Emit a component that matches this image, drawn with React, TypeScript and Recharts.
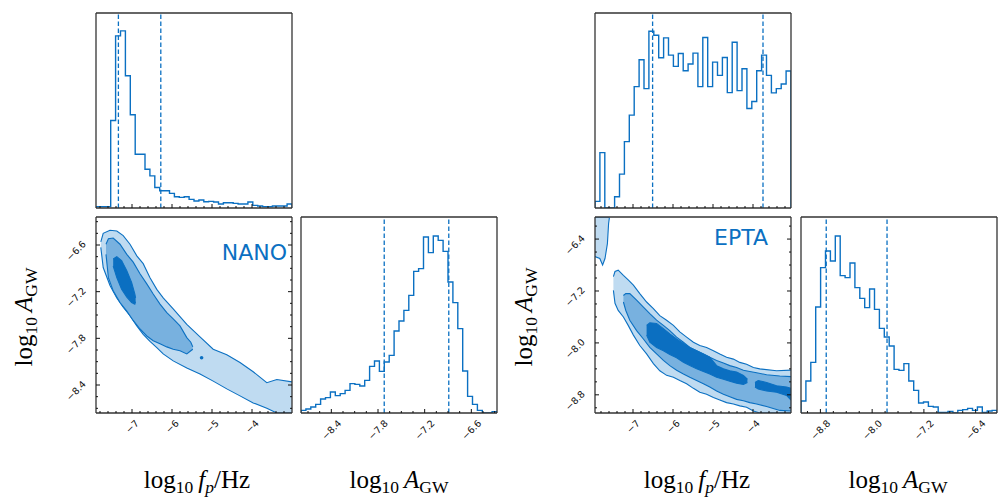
import React from 'react';
import { ComposedChart, Line, Area, Scatter, XAxis, YAxis, ReferenceLine } from 'recharts';

const BLUE = '#0b70c2';
const C1 = '#bfdbf1';
const C2 = '#78b1df';
const C3 = '#0b6fc1';
const FRAME = '#333333';
const TICK = '#111111';

// ---------- axis ranges & ticks ----------
const NANO_FP_RANGE = [-7.9, -3.0];
const NANO_A_RANGE_HIST = [-8.79, -6.27];
const NANO_A_RANGE_2D = [-8.76, -6.24];
const EPTA_FP_RANGE = [-7.95, -3.05];
const EPTA_A_RANGE_HIST = [-9.1, -6.07];
const EPTA_A_RANGE_2D = [-9.08, -6.06];

const FP_MAJOR = [-7, -6, -5, -4];
const FP_MINOR = [-7.8, -7.6, -7.4, -7.2, -6.8, -6.6, -6.4, -6.2, -5.8, -5.6, -5.4, -5.2, -4.8, -4.6, -4.4, -4.2, -3.8, -3.6, -3.4, -3.2];
const NANO_A_MAJOR = [-8.4, -7.8, -7.2, -6.6];
const NANO_A_MINOR = [-8.7, -8.55, -8.25, -8.1, -7.95, -7.65, -7.5, -7.35, -7.05, -6.9, -6.75, -6.45, -6.3];
const EPTA_A_MAJOR = [-8.8, -8.0, -7.2, -6.4];
const EPTA_A_MINOR = [-9.0, -8.6, -8.4, -8.2, -7.8, -7.6, -7.4, -7.0, -6.8, -6.6, -6.2];

// ---------- histograms (40 bins each) ----------
const NANO_FP_COUNTS = [4, 4, 4, 264, 519, 534, 399, 281, 162, 162, 117, 97, 62, 52, 52, 44, 34, 32, 34, 26, 21, 24, 19, 20, 18, 12, 16, 16, 14, 12, 12, 18, 8, 6, 4, 4, 6, 6, 6, 12];
const NANO_A_COUNTS = [8, 12, 18, 26, 42, 46, 63, 52, 58, 68, 88, 86, 81, 98, 140, 156, 125, 153, 173, 246, 276, 308, 353, 425, 433, 528, 481, 531, 518, 485, 393, 331, 253, 126, 50, 26, 8, 0, 0, 4];
const EPTA_FP_COUNTS = [20, 167, 0, 0, 34, 102, 200, 280, 366, 447, 360, 533, 521, 453, 513, 461, 427, 466, 414, 434, 467, 366, 514, 366, 440, 400, 454, 348, 500, 354, 420, 300, 321, 414, 461, 400, 347, 360, 374, 413];
const EPTA_A_COUNTS = [36, 96, 152, 318, 436, 486, 456, 531, 412, 406, 450, 376, 344, 316, 372, 311, 254, 228, 201, 131, 128, 148, 96, 68, 30, 33, 20, 18, 2, 2, 5, 0, 8, 10, 14, 8, 18, 2, 6, 8];
const HIST_TOP = 588;

const NANO_FP_QUANT = [-7.34, -6.28];
const NANO_A_QUANT = [-7.72, -6.89];
const EPTA_FP_QUANT = [-6.51, -3.75];
const EPTA_A_QUANT = [-8.71, -7.77];

// ---------- 2D contours: [x, lower, upper] ----------
const NANO_L1 = [
  [-7.78, -6.63, -6.56], [-7.72, -6.89, -6.45], [-7.55, -7.12, -6.41], [-7.38, -7.28, -6.42],
  [-7.22, -7.40, -6.48], [-7.05, -7.51, -6.59], [-6.88, -7.64, -6.74], [-6.72, -7.75, -6.84],
  [-6.55, -7.84, -7.02], [-6.38, -7.92, -7.17], [-6.22, -8.00, -7.28], [-5.97, -8.09, -7.42],
  [-5.63, -8.18, -7.62], [-5.30, -8.26, -7.78], [-4.97, -8.35, -7.94], [-4.63, -8.45, -8.01],
  [-4.30, -8.54, -8.11], [-3.97, -8.63, -8.23], [-3.63, -8.70, -8.37], [-3.38, -8.76, -8.33],
  [-3.0, -8.76, -8.36],
];
const NANO_L2 = [
  [-7.65, -6.72, -6.59], [-7.59, -7.02, -6.52], [-7.47, -7.19, -6.51], [-7.30, -7.34, -6.59],
  [-7.13, -7.45, -6.72], [-6.97, -7.57, -6.82], [-6.80, -7.68, -6.97], [-6.63, -7.77, -7.10],
  [-6.47, -7.83, -7.23], [-6.30, -7.87, -7.36], [-6.13, -7.91, -7.47], [-5.97, -7.94, -7.55],
  [-5.80, -7.96, -7.64], [-5.63, -8.00, -7.79], [-5.53, -7.96, -7.85], [-5.48, -7.94, -7.91],
];
const NANO_L3 = [
  [-7.47, -6.87, -6.78], [-7.38, -7.02, -6.75], [-7.26, -7.17, -6.80], [-7.13, -7.27, -6.93],
  [-7.01, -7.34, -7.08], [-6.93, -7.36, -7.23], [-6.91, -7.33, -7.28],
];
const NANO_ISLAND = [{ x: -5.26, y: -8.05 }];

const EPTA_L1_BLOB = [
  [-7.95, -6.67, -6.06], [-7.83, -6.70, -6.06], [-7.76, -6.80, -6.06], [-7.70, -6.70, -6.06],
  [-7.64, -6.47, -6.06], [-7.61, -6.16, -6.06], [-7.59, -6.07, -6.06],
];
const EPTA_L1 = [
  [-7.49, -7.19, -6.98], [-7.45, -7.39, -6.90], [-7.37, -7.50, -6.88], [-7.24, -7.60, -6.96],
  [-7.12, -7.73, -7.03], [-6.99, -7.88, -7.11], [-6.83, -8.04, -7.24], [-6.66, -8.17, -7.37],
  [-6.49, -8.32, -7.47], [-6.33, -8.43, -7.58], [-6.16, -8.50, -7.65], [-5.99, -8.53, -7.73],
  [-5.83, -8.58, -7.83], [-5.66, -8.63, -7.91], [-5.49, -8.70, -7.99], [-5.33, -8.76, -8.04],
  [-5.16, -8.79, -8.07], [-4.99, -8.84, -8.12], [-4.83, -8.88, -8.17], [-4.66, -8.92, -8.22],
  [-4.49, -8.94, -8.25], [-4.33, -8.97, -8.30], [-4.16, -8.99, -8.33], [-3.99, -9.05, -8.38],
  [-3.83, -9.08, -8.40], [-3.41, -9.08, -8.43], [-3.05, -9.08, -8.42],
];
const EPTA_L2 = [
  [-7.24, -7.37, -7.27], [-7.18, -7.50, -7.24], [-7.08, -7.65, -7.24], [-6.91, -7.81, -7.34],
  [-6.74, -7.94, -7.45], [-6.58, -8.07, -7.55], [-6.41, -8.17, -7.65], [-6.24, -8.27, -7.73],
  [-6.08, -8.35, -7.81], [-5.91, -8.42, -7.91], [-5.74, -8.48, -7.99], [-5.58, -8.53, -8.07],
  [-5.41, -8.58, -8.12], [-5.24, -8.63, -8.17], [-5.08, -8.68, -8.22], [-4.91, -8.74, -8.27],
  [-4.74, -8.79, -8.31], [-4.58, -8.83, -8.35], [-4.41, -8.87, -8.38], [-4.24, -8.89, -8.42],
  [-4.08, -8.92, -8.44], [-3.91, -8.94, -8.46], [-3.66, -8.98, -8.49], [-3.33, -9.04, -8.51],
  [-3.05, -9.05, -8.52],
];
const EPTA_L3_A = [
  [-6.66, -7.88, -7.73], [-6.58, -7.99, -7.69], [-6.41, -8.07, -7.70], [-6.24, -8.12, -7.78],
  [-6.08, -8.18, -7.86], [-5.91, -8.23, -7.94], [-5.74, -8.30, -8.01], [-5.58, -8.35, -8.07],
  [-5.41, -8.40, -8.12], [-5.24, -8.44, -8.17], [-5.08, -8.48, -8.22], [-4.91, -8.53, -8.35],
  [-4.74, -8.56, -8.40], [-4.58, -8.59, -8.43], [-4.41, -8.62, -8.45], [-4.24, -8.64, -8.50],
  [-4.14, -8.61, -8.56],
];
const EPTA_L3_B = [
  [-3.95, -8.68, -8.61], [-3.87, -8.71, -8.58], [-3.66, -8.74, -8.61], [-3.41, -8.76, -8.66],
  [-3.16, -8.81, -8.68], [-3.05, -8.88, -8.70],
];

// ---------- helpers ----------
const ML = 50, MR = 12, MT = 8, MB = 45;
const TICK_FONT = 9.5;

const toBand = (rows: number[][]) => rows.map(([x, lo, hi]) => ({ x, r: [lo, hi] }));

function histPoints(range: number[], counts: number[]) {
  const w = (range[1] - range[0]) / counts.length;
  const pts: { x: number; y: number }[] = [{ x: range[0], y: 0 }];
  counts.forEach((c, i) => pts.push({ x: range[0] + i * w, y: c }));
  pts.push({ x: range[1], y: counts[counts.length - 1] });
  pts.push({ x: range[1], y: 0 });
  return pts;
}

const CW: Record<string, number> = { '−': 0.838, '.': 0.318 };
const textW = (s: string) => s.split('').reduce((a, ch) => a + (CW[ch] ?? 0.636), 0) * TICK_FONT;
const fmtInt = (v: number) => '−' + Math.abs(v).toFixed(0);
const fmtOne = (v: number) => '−' + Math.abs(v).toFixed(1);

function makeTick(side: 'bottom' | 'top' | 'left' | 'right', majors: number[], fmt?: (v: number) => string) {
  return (props: any) => {
    const { x, y, payload } = props;
    const v = payload.value;
    const isMajor = majors.some((m) => Math.abs(m - v) < 1e-6);
    const len = isMajor ? 4 : 2;
    let line: React.ReactNode = null;
    if (side === 'bottom') line = <line x1={x} y1={y} x2={x} y2={y - len} stroke={TICK} strokeWidth={1} />;
    if (side === 'top') line = <line x1={x} y1={y} x2={x} y2={y + len} stroke={TICK} strokeWidth={1} />;
    if (side === 'left') line = <line x1={x} y1={y} x2={x + len} y2={y} stroke={TICK} strokeWidth={1} />;
    if (side === 'right') line = <line x1={x} y1={y} x2={x - len} y2={y} stroke={TICK} strokeWidth={1} />;
    let label: React.ReactNode = null;
    if (fmt && isMajor) {
      const s = fmt(v);
      let cx = x, cy = y;
      if (side === 'bottom') { cy = y + 6.5 + 0.36 * (textW(s) + 5); }
      if (side === 'left') { cx = x - 20; cy = y + 5.5; }
      label = (
        <text x={cx} y={cy} textAnchor="middle" dominantBaseline="central" transform={`rotate(-45 ${cx} ${cy})`}
          fontSize={TICK_FONT} fontFamily="DejaVu Sans" fill={TICK}>{s}</text>
      );
    }
    return <g>{line}{label}</g>;
  };
}

function Panel({ left, top, w, h, xDomain, yDomain, xMaj, xMin, yMaj, yMin, xFmt, yFmt, children }: any) {
  const axisLine = { stroke: FRAME, strokeWidth: 1.3 };
  const yTicks = yMaj ? [...yMaj, ...yMin] : [];
  // axes are 1px thick, so margins are reduced by 1 to keep the plot area in place
  return (
    <div style={{ position: 'absolute', left: left - ML, top: top - MT, width: w + ML + MR, height: h + MT + MB }}>
      <ComposedChart width={w + ML + MR} height={h + MT + MB} margin={{ top: MT - 1, right: MR - 1, bottom: MB - 1, left: ML - 1 }}>
        <XAxis xAxisId="b" type="number" dataKey="x" domain={xDomain} allowDataOverflow ticks={[...xMaj, ...xMin]}
          interval={0} height={1} tickSize={0} tickMargin={0} tickLine={false} axisLine={axisLine}
          tick={makeTick('bottom', xMaj, xFmt)} />
        <XAxis xAxisId="t" orientation="top" type="number" domain={xDomain} allowDataOverflow ticks={[...xMaj, ...xMin]}
          interval={0} height={1} tickSize={0} tickMargin={0} tickLine={false} axisLine={axisLine}
          tick={makeTick('top', xMaj)} />
        <YAxis yAxisId="l" type="number" domain={yDomain} allowDataOverflow width={1} ticks={yTicks}
          interval={0} tickSize={0} tickMargin={0} tickLine={false} axisLine={axisLine}
          tick={yMaj ? makeTick('left', yMaj, yFmt) : false} />
        <YAxis yAxisId="r" orientation="right" type="number" domain={yDomain} allowDataOverflow width={1} ticks={yTicks}
          interval={0} tickSize={0} tickMargin={0} tickLine={false} axisLine={axisLine}
          tick={yMaj ? makeTick('right', yMaj) : false} />
        {children}
      </ComposedChart>
    </div>
  );
}

function histItems(range: number[], counts: number[], quant: number[]) {
  return [
    <Line key="h" data={histPoints(range, counts)} xAxisId="b" yAxisId="l" dataKey="y" type="stepAfter"
      stroke={BLUE} strokeWidth={1.4} dot={false} activeDot={false} isAnimationActive={false} />,
    ...quant.map((q, i) => (
      <ReferenceLine key={'q' + i} x={q} xAxisId="b" yAxisId="l" stroke={BLUE} strokeWidth={1.3} strokeDasharray="4.5 2.5" />
    )),
  ];
}

function bandArea(key: string, rows: number[][], fill: string) {
  return (
    <Area key={key} data={toBand(rows)} xAxisId="b" yAxisId="l" dataKey="r" type="linear" fill={fill} fillOpacity={1}
      stroke={BLUE} strokeWidth={1.1} dot={false} activeDot={false} isAnimationActive={false} />
  );
}

const IslandDot = (p: any) => <circle cx={p.cx} cy={p.cy} r={1.8} fill={BLUE} />;

function AxisLabels() {
  const serif = 'Liberation Serif, DejaVu Serif, serif';
  const fpLabel = (x: number) => (
    <text x={x} y={488} textAnchor="middle" fontFamily={serif} fontSize={25} fill="#000">
      log<tspan fontSize={17.5} dy={5}>10</tspan><tspan dy={-5} dx={5} fontStyle="italic">f</tspan>
      <tspan fontStyle="italic" fontSize={17.5} dy={5}>p</tspan><tspan dy={-5}>/Hz</tspan>
    </text>
  );
  const aLabel = (x: number) => (
    <text x={x} y={488} textAnchor="middle" fontFamily={serif} fontSize={25} fill="#000">
      log<tspan fontSize={17.5} dy={5}>10</tspan><tspan dy={-5} dx={5} fontStyle="italic">A</tspan>
      <tspan fontSize={17.5} dy={5}>GW</tspan>
    </text>
  );
  const vLabel = (x: number, y: number) => (
    <text x={x} y={y} textAnchor="middle" fontFamily={serif} fontSize={25} fill="#000" transform={`rotate(-90 ${x} ${y})`}>
      log<tspan fontSize={17.5} dy={5}>10</tspan><tspan dy={-5} dx={5} fontStyle="italic">A</tspan>
      <tspan fontSize={17.5} dy={5}>GW</tspan>
    </text>
  );
  return (
    <svg width={1006} height={498} style={{ position: 'absolute', left: 0, top: 0, pointerEvents: 'none' }}>
      {fpLabel(197)}
      {aLabel(399)}
      {fpLabel(697)}
      {aLabel(898)}
      {vLabel(32, 317)}
      {vLabel(532, 317)}
      <text x={287} y={260} textAnchor="end" fontFamily="DejaVu Sans" fontSize={22} fill={BLUE}>NANO</text>
      <text x={768} y={245} textAnchor="end" fontFamily="DejaVu Sans" fontSize={22} fill={BLUE}>EPTA</text>
    </svg>
  );
}

export default function App() {
  return (
    <div style={{ position: 'absolute', left: 0, top: 0, width: 1006, height: 498, background: '#fff', overflow: 'hidden' }}>
      {/* NANOGrav corner */}
      <Panel left={96} top={13} w={196} h={195} xDomain={NANO_FP_RANGE} yDomain={[0, HIST_TOP]} xMaj={FP_MAJOR} xMin={FP_MINOR}>
        {histItems(NANO_FP_RANGE, NANO_FP_COUNTS, NANO_FP_QUANT)}
      </Panel>
      <Panel left={96} top={217} w={196} h={196} xDomain={NANO_FP_RANGE} yDomain={NANO_A_RANGE_2D}
        xMaj={FP_MAJOR} xMin={FP_MINOR} yMaj={NANO_A_MAJOR} yMin={NANO_A_MINOR} xFmt={fmtInt} yFmt={fmtOne}>
        {bandArea('l1', NANO_L1, C1)}
        {bandArea('l2', NANO_L2, C2)}
        {bandArea('l3', NANO_L3, C3)}
        <Scatter data={NANO_ISLAND} xAxisId="b" yAxisId="l" dataKey="y" shape={IslandDot} isAnimationActive={false} />
      </Panel>
      <Panel left={301} top={217} w={196} h={196} xDomain={NANO_A_RANGE_HIST} yDomain={[0, HIST_TOP]}
        xMaj={NANO_A_MAJOR} xMin={NANO_A_MINOR} xFmt={fmtOne}>
        {histItems(NANO_A_RANGE_HIST, NANO_A_COUNTS, NANO_A_QUANT)}
      </Panel>

      {/* EPTA corner */}
      <Panel left={595} top={13} w={196} h={195} xDomain={EPTA_FP_RANGE} yDomain={[0, HIST_TOP]} xMaj={FP_MAJOR} xMin={FP_MINOR}>
        {histItems(EPTA_FP_RANGE, EPTA_FP_COUNTS, EPTA_FP_QUANT)}
      </Panel>
      <Panel left={595} top={217} w={196} h={196} xDomain={EPTA_FP_RANGE} yDomain={EPTA_A_RANGE_2D}
        xMaj={FP_MAJOR} xMin={FP_MINOR} yMaj={EPTA_A_MAJOR} yMin={EPTA_A_MINOR} xFmt={fmtInt} yFmt={fmtOne}>
        {bandArea('b1', EPTA_L1_BLOB, C1)}
        {bandArea('l1', EPTA_L1, C1)}
        {bandArea('l2', EPTA_L2, C2)}
        {bandArea('l3a', EPTA_L3_A, C3)}
        {bandArea('l3b', EPTA_L3_B, C3)}
      </Panel>
      <Panel left={801} top={217} w={196} h={196} xDomain={EPTA_A_RANGE_HIST} yDomain={[0, HIST_TOP]}
        xMaj={EPTA_A_MAJOR} xMin={EPTA_A_MINOR} xFmt={fmtOne}>
        {histItems(EPTA_A_RANGE_HIST, EPTA_A_COUNTS, EPTA_A_QUANT)}
      </Panel>

      <AxisLabels />
    </div>
  );
}
